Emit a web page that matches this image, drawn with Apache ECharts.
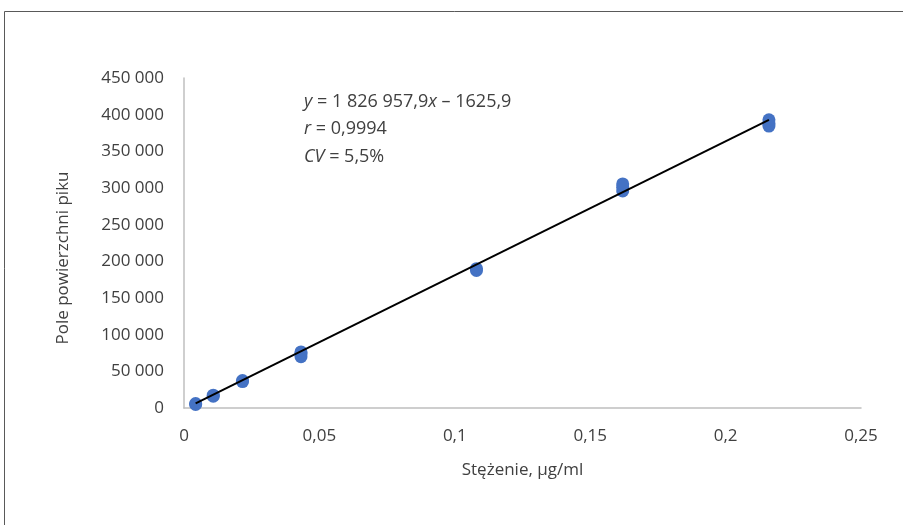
<!DOCTYPE html>
<html>
<head>
<meta charset="utf-8">
<script src="https://cdn.jsdelivr.net/npm/echarts@6/dist/echarts.min.js"></script>
<style>
html, body { margin: 0; padding: 0; background: #fff; }
#main { width: 903px; height: 525px; }
</style>
</head>
<body>
<div id="main"></div>
<script>
// stezenie (ug/ml) and pole powierzchni piku
var concX = [0.0043, 0.0043, 0.0108, 0.0108, 0.0216, 0.0216, 0.0432, 0.0432, 0.0432,
  0.108, 0.108, 0.162, 0.162, 0.162, 0.216, 0.216, 0.216];
var peakArea = [4800, 6000, 16000, 17500, 36000, 37500, 70000, 73500, 76500,
  187500, 190000, 296000, 301000, 305500, 384500, 388000, 393000];

// trend line as printed on the chart
var slope = 1826957.9;
var intercept = -1625.9;
var trendX = [0.0043, 0.216];

var xTicks = [0, 0.05, 0.1, 0.15, 0.2, 0.25];
var yMax = 450000;

var font = '"Open Sans", sans-serif';

function init() {
  var chart = echarts.init(document.getElementById('main'));

  var pts = [];
  for (var i = 0; i < concX.length; i++) pts.push([concX[i], peakArea[i]]);
  var trend = trendX.map(function (x) { return [x, slope * x + intercept]; });

  var option = {
    animation: false,
    backgroundColor: '#fff',
    grid: { left: 184, right: 42, top: 78, bottom: 117 },
    xAxis: {
      type: 'value',
      min: xTicks[0],
      max: xTicks[xTicks.length - 1],
      interval: 0.05,
      name: 'Stężenie, µg/ml',
      nameLocation: 'middle',
      nameGap: 54,
      nameTextStyle: { fontFamily: font, fontSize: 17, color: '#404040' },
      axisLine: { show: true, lineStyle: { color: '#bfbfbf', width: 1.5 } },
      axisTick: { show: false },
      splitLine: { show: false },
      axisLabel: {
        fontFamily: font, fontSize: 17, color: '#404040', margin: 20,
        formatter: function (v) { return String(+v.toFixed(2)).replace('.', ','); }
      }
    },
    yAxis: {
      type: 'value',
      min: 0,
      max: yMax,
      interval: 50000,
      name: 'Pole powierzchni piku',
      nameLocation: 'middle',
      nameGap: 112,
      nameTextStyle: { fontFamily: font, fontSize: 17, color: '#404040', padding: [0, 0, 0, -30] },
      axisLine: { show: true, lineStyle: { color: '#bfbfbf', width: 1.5 } },
      axisTick: { show: false },
      splitLine: { show: false },
      axisLabel: {
        fontFamily: font, fontSize: 17, color: '#404040', margin: 20,
        formatter: function (v) {
          return String(v).replace(/\B(?=(\d{3})+(?!\d))/g, ' ');
        }
      }
    },
    graphic: [
      {
        type: 'rect',
        shape: { x: 4.5, y: 11.5, width: 1200, height: 1200 },
        style: { fill: 'none', stroke: '#595959', lineWidth: 1 },
        silent: true
      },
      {
        type: 'text',
        left: 304,
        top: 88,
        style: {
          text: '{i|y} = 1 826 957,9{i|x} – 1625,9\n{i|r} = 0,9994\n{i|CV} = 5,5%',
          fontFamily: font,
          fontSize: 18,
          lineHeight: 27.5,
          fill: '#404040',
          rich: {
            i: { fontStyle: 'italic', fontFamily: font, fontSize: 18, fill: '#404040' }
          }
        }
      }
    ],
    series: [
      {
        type: 'scatter',
        data: pts,
        symbolSize: 13,
        itemStyle: { color: '#4472C4', opacity: 1 },
        z: 2
      },
      {
        type: 'line',
        data: trend,
        symbol: 'none',
        lineStyle: { color: '#000', width: 2 },
        z: 3
      }
    ]
  };
  chart.setOption(option);
}
init();
</script>
</body>
</html>
